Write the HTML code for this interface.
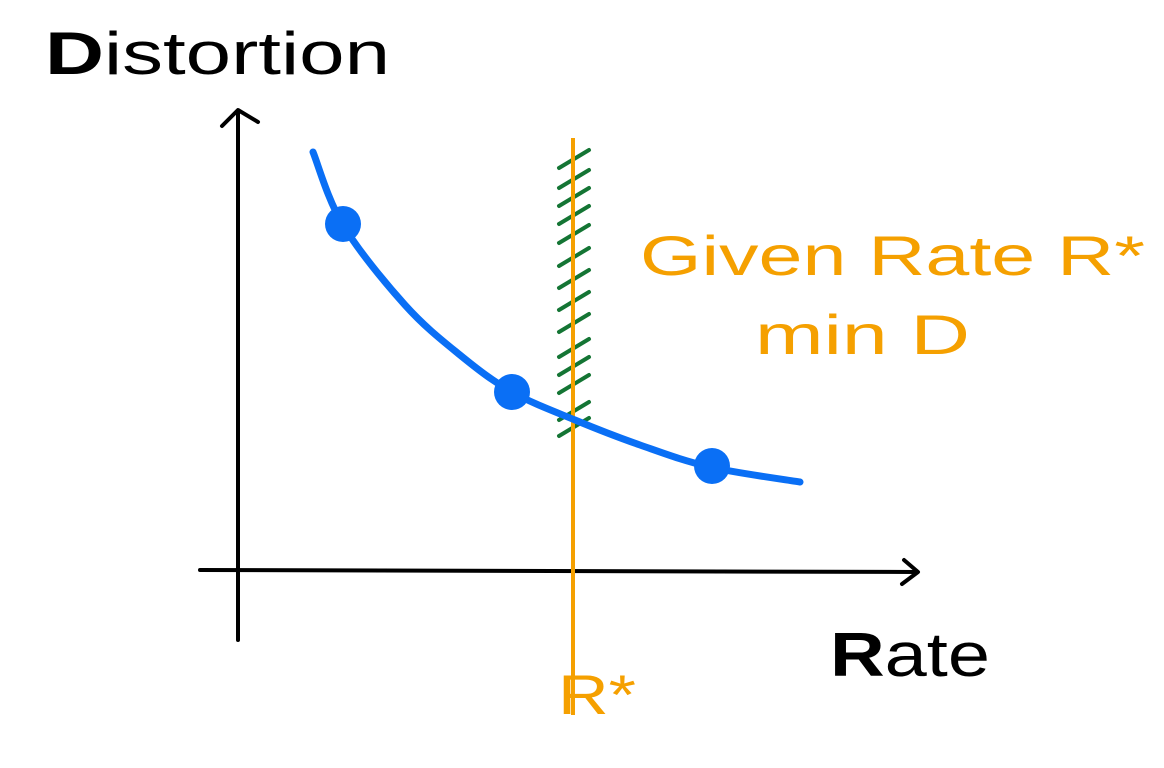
<!DOCTYPE html>
<html><head><meta charset="utf-8"><style>
body{margin:0;width:1164px;height:768px;background:#fff;overflow:hidden}
svg{display:block}
text{font-family:"Liberation Sans",sans-serif}
</style></head><body>
<svg id="chart" width="1164" height="768">
<text x="45" y="74" font-size="60" fill="#000" textLength="345" lengthAdjust="spacingAndGlyphs"><tspan font-weight="bold">D</tspan>istortion</text>
<text x="830" y="676" font-size="62" fill="#000" textLength="160" lengthAdjust="spacingAndGlyphs"><tspan font-weight="bold">R</tspan>ate</text>
<text x="640" y="275" font-size="56" fill="#f5a000" textLength="505" lengthAdjust="spacingAndGlyphs">Given Rate R*</text>
<text x="755" y="354" font-size="56" fill="#f5a000" textLength="215" lengthAdjust="spacingAndGlyphs">min D</text>
<text x="558" y="714" font-size="56" fill="#f5a000" textLength="78" lengthAdjust="spacingAndGlyphs">R*</text>
<g stroke="#000" stroke-width="4" fill="none" stroke-linecap="round" stroke-linejoin="round">
<path d="M238 640 L238 112 M222 126 L238 110 L258 122"/>
<path d="M200 570 L916 572 M904 560 L918 572 L902 584"/>
</g>
<g id="hatch" stroke="#147534" stroke-width="4" stroke-linecap="round"></g>
<g id="marks"></g>
</svg>
<script>
const rates=[7.5,10.5,16.7,22.2,27.4,33.7,40.2,47.2,56.2];
const distortions=[41.8,34.5,26.5,21.5,17.8,15,12.5,10.3,8.8];
const pointRates=[10.5,27.4,47.4];
const pointDist=[34.6,17.8,10.4];
const rStar=33.5;
const x=r=>238+r*10, y=d=>570-d*10;
const NS="http://www.w3.org/2000/svg";
const marks=document.getElementById('marks');
const vl=document.createElementNS(NS,'line');


vl.setAttribute('x1',x(rStar));vl.setAttribute('x2',x(rStar));vl.setAttribute('y1',138);vl.setAttribute('y2',715);
vl.setAttribute('stroke','#f5a000');vl.setAttribute('stroke-width',4);
marks.appendChild(vl);
const hg=document.getElementById('hatch');
[158,178,196,214,233,256,278,300,322,347,365,383,410,426].forEach(hy=>{
 const l=document.createElementNS(NS,'line');
 
 
 l.setAttribute('x1',x(rStar)-14);l.setAttribute('y1',hy+10);l.setAttribute('x2',x(rStar)+16);l.setAttribute('y2',hy-8);
 hg.appendChild(l);
});
const px=rates.map(x), py=distortions.map(y);
let d='M'+px[0]+' '+py[0];
for(let i=0;i<px.length-1;i++){
 const x0=px[i-1]??px[i],y0=py[i-1]??py[i],x3=px[i+2]??px[i+1],y3=py[i+2]??py[i+1];
 d+=` C${px[i]+(px[i+1]-x0)/6} ${py[i]+(py[i+1]-y0)/6} ${px[i+1]-(x3-px[i])/6} ${py[i+1]-(y3-py[i])/6} ${px[i+1]} ${py[i+1]}`;
}
const c=document.createElementNS(NS,'path');


c.setAttribute('d',d);c.setAttribute('fill','none');c.setAttribute('stroke','#0a6ff5');c.setAttribute('stroke-width',7);c.setAttribute('stroke-linecap','round');
marks.appendChild(c);
pointRates.forEach((r,i)=>{
 const p=document.createElementNS(NS,'circle');
 
 
 p.setAttribute('cx',x(r));p.setAttribute('cy',y(pointDist[i]));p.setAttribute('r',18);p.setAttribute('fill','#0a6ff5');
 marks.appendChild(p);
});
</script>
</body></html>
